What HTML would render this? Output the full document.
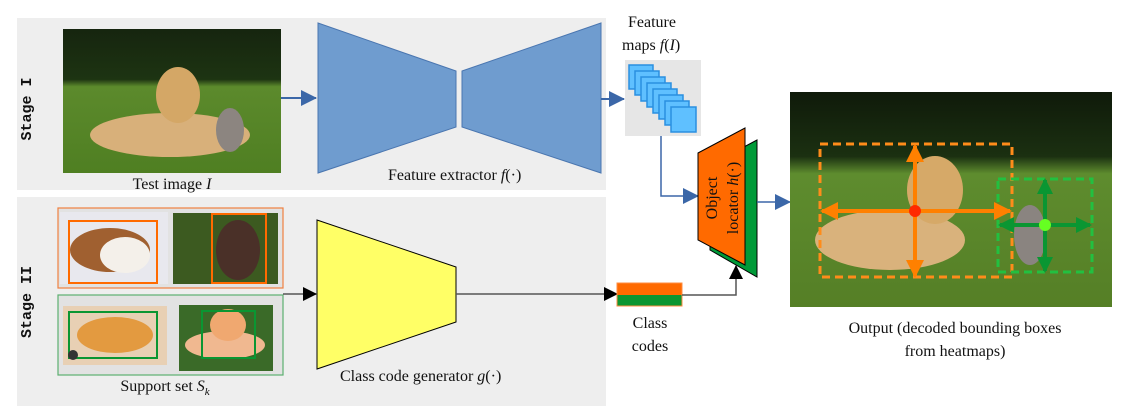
<!DOCTYPE html>
<html><head><meta charset="utf-8"><style>
html,body{margin:0;padding:0;background:#fff;width:1131px;height:406px;overflow:hidden}
text{font-family:"Liberation Serif",serif;font-size:16px;fill:#111}
.m{font-family:"Liberation Mono",monospace;font-weight:bold;font-size:15px}
</style></head><body>
<svg width="1131" height="406" viewBox="0 0 1131 406" xmlns="http://www.w3.org/2000/svg">
<defs>
<linearGradient id="ph" x1="0" y1="0" x2="0" y2="1">
<stop offset="0" stop-color="#16250f"/><stop offset="0.35" stop-color="#1d3412"/><stop offset="0.4" stop-color="#5c8a2c"/><stop offset="1" stop-color="#4f7f22"/></linearGradient>
<linearGradient id="ph2" x1="0" y1="0" x2="0" y2="1">
<stop offset="0" stop-color="#0f1a0a"/><stop offset="0.3" stop-color="#1b3011"/><stop offset="0.38" stop-color="#5e8c2e"/><stop offset="1" stop-color="#557f26"/></linearGradient>
<marker id="ab" markerWidth="16" markerHeight="16" refX="15" refY="8" orient="auto" markerUnits="userSpaceOnUse"><path d="M0,0 L16,8 L0,16 z" fill="#3b67a8"/></marker>
<marker id="ak" markerWidth="14" markerHeight="14" refX="13" refY="7" orient="auto" markerUnits="userSpaceOnUse"><path d="M0,0 L14,7 L0,14 z" fill="#000"/></marker>
<marker id="ao" markerWidth="18" markerHeight="18" refX="16" refY="9" orient="auto" markerUnits="userSpaceOnUse"><path d="M0,0 L18,9 L0,18 z" fill="#ff8000"/></marker>
<marker id="ag" markerWidth="16" markerHeight="16" refX="14" refY="8" orient="auto" markerUnits="userSpaceOnUse"><path d="M0,0 L16,8 L0,16 z" fill="#0a9632"/></marker>
</defs>
<rect x="17" y="18" width="589" height="172" fill="#eeeeee"/>
<rect x="17" y="197" width="589" height="209" fill="#eeeeee"/>
<text class="m" transform="translate(31,109) rotate(-90)" text-anchor="middle">Stage I</text>
<text class="m" transform="translate(31,302) rotate(-90)" text-anchor="middle">Stage II</text>
<rect x="63" y="29" width="218" height="144" fill="url(#ph)"/>
<ellipse cx="170" cy="135" rx="80" ry="22" fill="#d8b07a"/>
<ellipse cx="178" cy="95" rx="22" ry="28" fill="#d4a766"/>
<ellipse cx="230" cy="130" rx="14" ry="22" fill="#8c8580"/>
<text x="172" y="189" text-anchor="middle">Test image <tspan font-style="italic">I</tspan></text>
<line x1="281" y1="98" x2="316" y2="98" stroke="#3b67a8" stroke-width="2" marker-end="url(#ab)"/>
<polygon points="318,23 456,71 456,127 318,173" fill="#6f9ccf" stroke="#4a76b0" stroke-width="1"/>
<polygon points="462,71 601,23 601,173 462,127" fill="#6f9ccf" stroke="#4a76b0" stroke-width="1"/>
<text x="388" y="180">Feature extractor <tspan font-style="italic">f</tspan>(·)</text>
<line x1="601" y1="99" x2="624" y2="99" stroke="#3b67a8" stroke-width="2" marker-end="url(#ab)"/>
<text x="628" y="27">Feature</text>
<text x="622" y="50">maps <tspan font-style="italic">f</tspan>(<tspan font-style="italic">I</tspan>)</text>
<rect x="625" y="60" width="76" height="76" fill="#e6e6e6"/>
<g fill="#5fc0ff" stroke="#2a8fe0" stroke-width="1.5">
<rect x="629" y="65" width="24" height="24"/><rect x="635" y="71" width="24" height="24"/><rect x="641" y="77" width="24" height="24"/><rect x="647" y="83" width="24" height="24"/><rect x="653" y="89" width="24" height="24"/><rect x="659" y="95" width="24" height="24"/><rect x="665" y="101" width="24" height="24"/><rect x="671" y="107" width="25" height="25"/>
</g>
<polyline points="661,136 661,196 698,196" fill="none" stroke="#3b67a8" stroke-width="1.5" marker-end="url(#ab)"/>
<polygon points="710,250 710,165 757,140 757,277" fill="#009a38" stroke="#000" stroke-width="1"/>
<polygon points="698,153 745,128 745,265 698,240" fill="#ff6a00" stroke="#000" stroke-width="1"/>
<text transform="translate(722,198) rotate(-90)" text-anchor="middle" font-size="18"><tspan x="0" dy="-5">Object</tspan><tspan x="0" dy="21">locator <tspan font-style="italic">h</tspan>(·)</tspan></text>
<line x1="757" y1="202" x2="790" y2="202" stroke="#3b67a8" stroke-width="1.5" marker-end="url(#ab)"/>
<rect x="790" y="92" width="322" height="215" fill="url(#ph2)"/>
<ellipse cx="890" cy="240" rx="75" ry="30" fill="#d9b27c"/>
<ellipse cx="935" cy="190" rx="28" ry="34" fill="#d6a968"/>
<ellipse cx="1030" cy="235" rx="16" ry="30" fill="#8a8480"/>
<rect x="820" y="144" width="192" height="133" fill="none" stroke="#ff8c1a" stroke-width="3" stroke-dasharray="8,5"/>
<rect x="998" y="179" width="94" height="93" fill="none" stroke="#22c040" stroke-width="3" stroke-dasharray="8,5"/>
<g stroke="#ff8000" stroke-width="4">
<line x1="915" y1="211" x2="822" y2="211" marker-end="url(#ao)"/>
<line x1="915" y1="211" x2="1010" y2="211" marker-end="url(#ao)"/>
<line x1="915" y1="211" x2="915" y2="146" marker-end="url(#ao)"/>
<line x1="915" y1="211" x2="915" y2="276" marker-end="url(#ao)"/>
</g>
<circle cx="915" cy="211" r="6" fill="#ff2a00"/>
<g stroke="#0a9632" stroke-width="4">
<line x1="1045" y1="225" x2="1000" y2="225" marker-end="url(#ag)"/>
<line x1="1045" y1="225" x2="1090" y2="225" marker-end="url(#ag)"/>
<line x1="1045" y1="225" x2="1045" y2="180" marker-end="url(#ag)"/>
<line x1="1045" y1="225" x2="1045" y2="271" marker-end="url(#ag)"/>
</g>
<circle cx="1045" cy="225" r="6" fill="#66ff22"/>
<text x="955" y="333" text-anchor="middle">Output (decoded bounding boxes</text>
<text x="955" y="356" text-anchor="middle">from heatmaps)</text>
<rect x="58" y="208" width="225" height="80" fill="#e2e2e2" stroke="#f08040" stroke-width="1.2"/>
<rect x="60" y="212" width="108" height="72" fill="#e8e8ee"/>
<ellipse cx="110" cy="250" rx="40" ry="22" fill="#a06030"/>
<ellipse cx="125" cy="255" rx="25" ry="18" fill="#f4f0ea"/>
<rect x="69" y="221" width="88" height="62" fill="none" stroke="#ff6a00" stroke-width="2"/>
<rect x="173" y="213" width="105" height="71" fill="#3c5a20"/>
<ellipse cx="238" cy="250" rx="22" ry="30" fill="#4a3028"/>
<rect x="212" y="214" width="54" height="69" fill="none" stroke="#ff6a00" stroke-width="2"/>
<rect x="58" y="295" width="225" height="80" fill="#e2e2e2" stroke="#5cb070" stroke-width="1.2"/>
<rect x="63" y="306" width="104" height="59" fill="#e8d0b4"/>
<ellipse cx="115" cy="335" rx="38" ry="18" fill="#e39a40"/>
<rect x="69" y="312" width="88" height="46" fill="none" stroke="#0a9632" stroke-width="2"/>
<circle cx="73" cy="355" r="5" fill="#333"/>
<rect x="179" y="305" width="94" height="66" fill="#3a6a28"/>
<ellipse cx="225" cy="345" rx="40" ry="14" fill="#f0b890"/>
<ellipse cx="228" cy="325" rx="18" ry="16" fill="#f0a870"/>
<rect x="202" y="311" width="53" height="47" fill="none" stroke="#0a9632" stroke-width="2"/>
<text x="165" y="391" text-anchor="middle">Support set <tspan font-style="italic">S</tspan><tspan font-style="italic" font-size="11" dy="4">k</tspan></text>
<line x1="283" y1="294" x2="316" y2="294" stroke="#555" stroke-width="1.5" marker-end="url(#ak)"/>
<polygon points="317,220 456,267 456,322 317,369" fill="#ffff66" stroke="#000" stroke-width="1"/>
<text x="340" y="381">Class code generator <tspan font-style="italic">g</tspan>(·)</text>
<line x1="456" y1="294" x2="617" y2="294" stroke="#555" stroke-width="1.5" marker-end="url(#ak)"/>
<rect x="617" y="283" width="65" height="12" fill="#ff6a00"/>
<rect x="617" y="295" width="65" height="11" fill="#0a9632"/>
<rect x="617" y="283" width="65" height="23" fill="none" stroke="#ff8c40" stroke-width="1"/>
<text x="650" y="328" text-anchor="middle">Class</text>
<text x="650" y="351" text-anchor="middle">codes</text>
<polyline points="682,295 736,295 736,266" fill="none" stroke="#555" stroke-width="1.5" marker-end="url(#ak)"/>
</svg>
</body></html>
